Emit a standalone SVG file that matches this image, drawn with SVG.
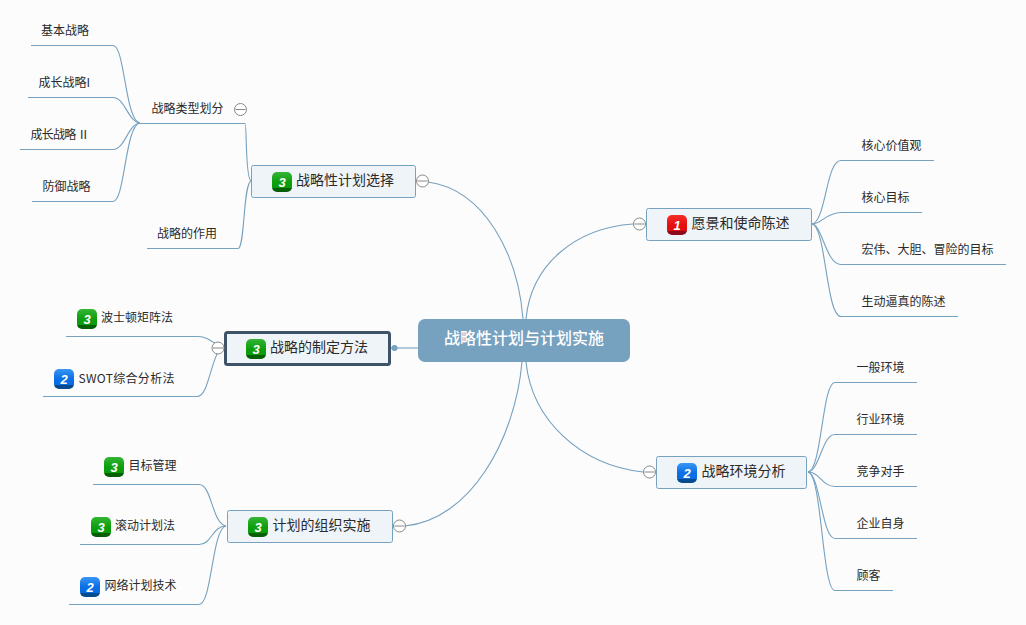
<svg xmlns="http://www.w3.org/2000/svg" xmlns:xlink="http://www.w3.org/1999/xlink" width="1026" height="625" viewBox="0 0 1026 625">
<style>
text{font-family:"Noto Sans CJK SC","Liberation Sans",sans-serif;fill:#2a2a2a}
.t{font-size:12px}
.n{font-size:14px}
.c{font-size:16px;font-weight:500;fill:#fff}
.box{fill:#eff4f8;stroke:#76a1bf;stroke-width:1}
.l{fill:none;stroke:#76a1bf;stroke-width:1.100}
.col{fill:#fff;stroke:#888;stroke-width:1}
.m{stroke:#888;stroke-width:1}
.d{font-family:"Liberation Sans",sans-serif;font-size:13px;font-weight:700;font-style:italic;fill:#fff;text-anchor:middle}
</style>
<defs>
<linearGradient id="gr" x1="0" y1="0" x2="0" y2="1"><stop offset="0" stop-color="#35b535"/><stop offset=".5" stop-color="#0d9f0d"/><stop offset=".8" stop-color="#0a9a0a"/><stop offset=".81" stop-color="#055f05"/><stop offset="1" stop-color="#055f05"/></linearGradient>
<linearGradient id="bl" x1="0" y1="0" x2="0" y2="1"><stop offset="0" stop-color="#3a96f5"/><stop offset=".5" stop-color="#0a6fe6"/><stop offset=".8" stop-color="#0a6be0"/><stop offset=".81" stop-color="#064a90"/><stop offset="1" stop-color="#064a90"/></linearGradient>
<linearGradient id="rd" x1="0" y1="0" x2="0" y2="1"><stop offset="0" stop-color="#f5302a"/><stop offset=".5" stop-color="#e60f0f"/><stop offset=".8" stop-color="#dd0e0e"/><stop offset=".81" stop-color="#8c0a1c"/><stop offset="1" stop-color="#8c0a1c"/></linearGradient>
<g id="i3"><rect width="20" height="20" rx="5" fill="url(#gr)"/><text class="d" x="10" y="15">3</text></g>
<g id="i2"><rect width="20" height="20" rx="5" fill="url(#bl)"/><text class="d" x="10" y="15">2</text></g>
<g id="i1"><rect width="20" height="20" rx="5" fill="url(#rd)"/><text class="d" x="10" y="15">1</text></g>
<g id="minus"><circle cx="0" cy="0" r="6" class="col"/><path d="M-5 0H5" class="m"/></g>
</defs>
<rect width="1026" height="625" fill="#fcfcfc"/>
<g id="connectors">
<path class="l" d="M428 182C485 190 518 255 523 319"/>
<path class="l" d="M633 224C575 228 531 265 526 319"/>
<path class="l" d="M526 362C532 420 580 465 643 472"/>
<path class="l" d="M522 362C515 440 470 520 405 526"/>
<path class="l" d="M390 348H418"/>
<path class="l" d="M812 224C826 222 826 160 841 160.500H934"/>
<path class="l" d="M812 224C822 224 826 212.500 841 212.500H922"/>
<path class="l" d="M812 224C822 224 826 264.500 841 264.500H1006"/>
<path class="l" d="M812 224C826 226 826 316.500 841 316.500H958"/>
<path class="l" d="M808 472C822 470 822 382.500 835 382.500H917"/>
<path class="l" d="M808 472C820 470 822 434.500 835 434.500H917"/>
<path class="l" d="M808 472C820 472 822 486.500 835 486.500H917"/>
<path class="l" d="M808 472C820 474 822 538.500 835 538.500H917"/>
<path class="l" d="M808 472C822 474 822 590.500 835 590.500H893"/>
<path class="l" d="M140 123C125 121 125 45.500 113 45.500H31"/>
<path class="l" d="M140 123C128 122 125 97.500 113 97.500H28"/>
<path class="l" d="M140 123C128 124 125 149.500 113 149.500H20"/>
<path class="l" d="M140 123C125 125 125 201.500 113 201.500H32"/>
<path class="l" d="M251 181C245 178 247 123.500 245 123.500H140"/>
<path class="l" d="M251 181C243 184 245 248.500 238 248.500H147"/>
<path class="l" d="M219 346C210 340 205 336.500 198 336.500H66"/>
<path class="l" d="M219 350C210 365 208 396.500 197 396.500H43"/>
<path class="l" d="M226 526C212 524 212 484.500 199 484.500H93"/>
<path class="l" d="M226 526C212 526 212 544.500 199 544.500H80"/>
<path class="l" d="M226 526C212 528 212 604.500 199 604.500H69"/>
<path class="l" d="M393 527L405 526"/>
</g>
<g id="center"><rect x="418" y="319" width="212" height="43" rx="7" fill="#76a1bf"/><text class="c" x="524" y="343.500" text-anchor="middle">战略性计划与计划实施</text></g>
<g id="n-select"><rect class="box" x="251.500" y="165.500" width="164" height="32" rx="2"/><use href="#i3" x="272" y="172"/><text class="n" x="296" y="185">战略性计划选择</text><use href="#minus" x="422.500" y="181"/></g>
<g id="n-method"><rect x="225.500" y="332.500" width="164" height="32" rx="2" fill="#eff4f8" stroke="#3e5368" stroke-width="3"/><use href="#i3" x="246" y="339"/><text class="n" x="270" y="352">战略的制定方法</text><use href="#minus" x="218" y="348"/><circle cx="394.500" cy="348" r="3" fill="#76a1bf"/></g>
<g id="n-org"><rect class="box" x="227.500" y="510.500" width="165" height="32" rx="2"/><use href="#i3" x="248" y="517"/><text class="n" x="272.500" y="530">计划的组织实施</text><use href="#minus" x="399.500" y="526"/></g>
<g id="n-vision"><rect class="box" x="646.500" y="208.500" width="165" height="32" rx="2"/><use href="#i1" x="667" y="215"/><text class="n" x="691.500" y="228">愿景和使命陈述</text><use href="#minus" x="639.500" y="224"/></g>
<g id="n-env"><rect class="box" x="656.500" y="456.500" width="150" height="32" rx="2"/><use href="#i2" x="677" y="463"/><text class="n" x="701.500" y="476">战略环境分析</text><use href="#minus" x="649.500" y="472"/></g>
<g id="s1"><text class="t" x="41" y="35">基本战略</text></g>
<g id="s2"><text class="t" x="38.500" y="87">成长战略I</text></g>
<g id="s3"><text class="t" x="30.500" y="139" textLength="59">成长战略 Ⅱ</text></g>
<g id="s4"><text class="t" x="42.500" y="191">防御战略</text></g>
<g id="s5"><text class="t" x="151.500" y="113">战略类型划分</text><use href="#minus" x="240.500" y="109.500"/></g>
<g id="s6"><text class="t" x="157" y="238">战略的作用</text></g>
<g id="s7"><use href="#i3" x="77" y="309"/><text class="t" x="101" y="322">波士顿矩阵法</text></g>
<g id="s8"><use href="#i2" x="54" y="369"/><text class="t" x="78.500" y="383" textLength="96">SWOT综合分析法</text></g>
<g id="s9"><use href="#i3" x="104" y="457"/><text class="t" x="128.500" y="470">目标管理</text></g>
<g id="s10"><use href="#i3" x="91" y="517"/><text class="t" x="115" y="530">滚动计划法</text></g>
<g id="s11"><use href="#i2" x="80" y="577"/><text class="t" x="104.500" y="590">网络计划技术</text></g>
<g id="s12"><text class="t" x="861.500" y="150">核心价值观</text></g>
<g id="s13"><text class="t" x="861.500" y="202">核心目标</text></g>
<g id="s14"><text class="t" x="861.500" y="254">宏伟、大胆、冒险的目标</text></g>
<g id="s15"><text class="t" x="861.500" y="306">生动逼真的陈述</text></g>
<g id="s16"><text class="t" x="856.500" y="372">一般环境</text></g>
<g id="s17"><text class="t" x="856.500" y="424">行业环境</text></g>
<g id="s18"><text class="t" x="856.500" y="476">竞争对手</text></g>
<g id="s19"><text class="t" x="856.500" y="528">企业自身</text></g>
<g id="s20"><text class="t" x="856.500" y="580">顾客</text></g>
</svg>
